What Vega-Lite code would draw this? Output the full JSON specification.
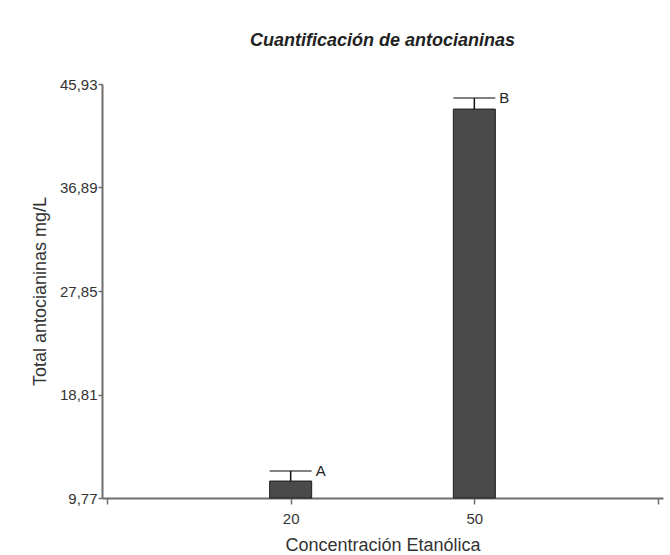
{
  "$schema": "https://vega.github.io/schema/vega-lite/v6.json",
  "autosize": "none",
  "width": 561,
  "height": 414,
  "padding": {"left": 102, "top": 84, "right": 7, "bottom": 57},
  "background": "white",
  "config": {
    "view": {"stroke": null},
    "font": "Liberation Sans",
    "axis": {
      "grid": false,
      "domainColor": "#6e6e6e",
      "domainWidth": 2,
      "tickColor": "#6e6e6e",
      "tickWidth": 1.5,
      "labelColor": "#333333",
      "labelFont": "Liberation Sans",
      "labelFontSize": 15,
      "titleFont": "Liberation Sans",
      "titleFontSize": 18,
      "titleFontWeight": "normal",
      "titleColor": "#333333"
    }
  },
  "title": {
    "text": "Cuantificación de antocianinas",
    "font": "Liberation Sans",
    "fontSize": 18,
    "fontStyle": "italic",
    "fontWeight": "bold",
    "color": "#222222",
    "anchor": "middle",
    "offset": 27
  },
  "data": {
    "values": [
      {"conc": 20, "media": 11.25, "sup": 12.13, "letra": "A"},
      {"conc": 50, "media": 43.74, "sup": 44.7, "letra": "B"}
    ]
  },
  "encoding": {
    "x": {
      "field": "conc",
      "type": "quantitative",
      "scale": {"domain": [-10, 80], "nice": false, "zero": false},
      "axis": {
        "title": "Concentración Etanólica",
        "values": [-10, 20, 50, 80],
        "labelExpr": "datum.value == 20 || datum.value == 50 ? datum.label : ''",
        "tickSize": 6,
        "labelPadding": 7,
        "titlePadding": 10
      }
    }
  },
  "layer": [
    {
      "mark": {"type": "bar", "size": 42, "color": "#4a4a4a", "stroke": "#1e1e1e", "strokeWidth": 1},
      "encoding": {
        "y": {
          "field": "media",
          "type": "quantitative",
          "scale": {"domain": [9.77, 45.93], "nice": false, "zero": false},
          "axis": {
            "title": "Total antocianinas mg/L",
            "values": [9.77, 18.81, 27.85, 36.89, 45.93],
            "labelExpr": "replace(format(datum.value, '.2f'), '.', ',')",
            "tickSize": 4,
            "labelPadding": 1,
            "titlePadding": 10
          }
        },
        "y2": {"datum": 9.77}
      }
    },
    {
      "mark": {"type": "rule", "color": "#111111", "strokeWidth": 1.5},
      "encoding": {
        "y": {"field": "media", "type": "quantitative"},
        "y2": {"field": "sup"}
      }
    },
    {
      "mark": {"type": "tick", "orient": "horizontal", "size": 42, "thickness": 1.5, "color": "#111111"},
      "encoding": {
        "y": {"field": "sup", "type": "quantitative"}
      }
    },
    {
      "mark": {"type": "text", "align": "left", "baseline": "middle", "dx": 25, "fontSize": 15, "color": "#222222", "font": "Liberation Sans"},
      "encoding": {
        "y": {"field": "sup", "type": "quantitative"},
        "text": {"field": "letra"}
      }
    }
  ]
}
